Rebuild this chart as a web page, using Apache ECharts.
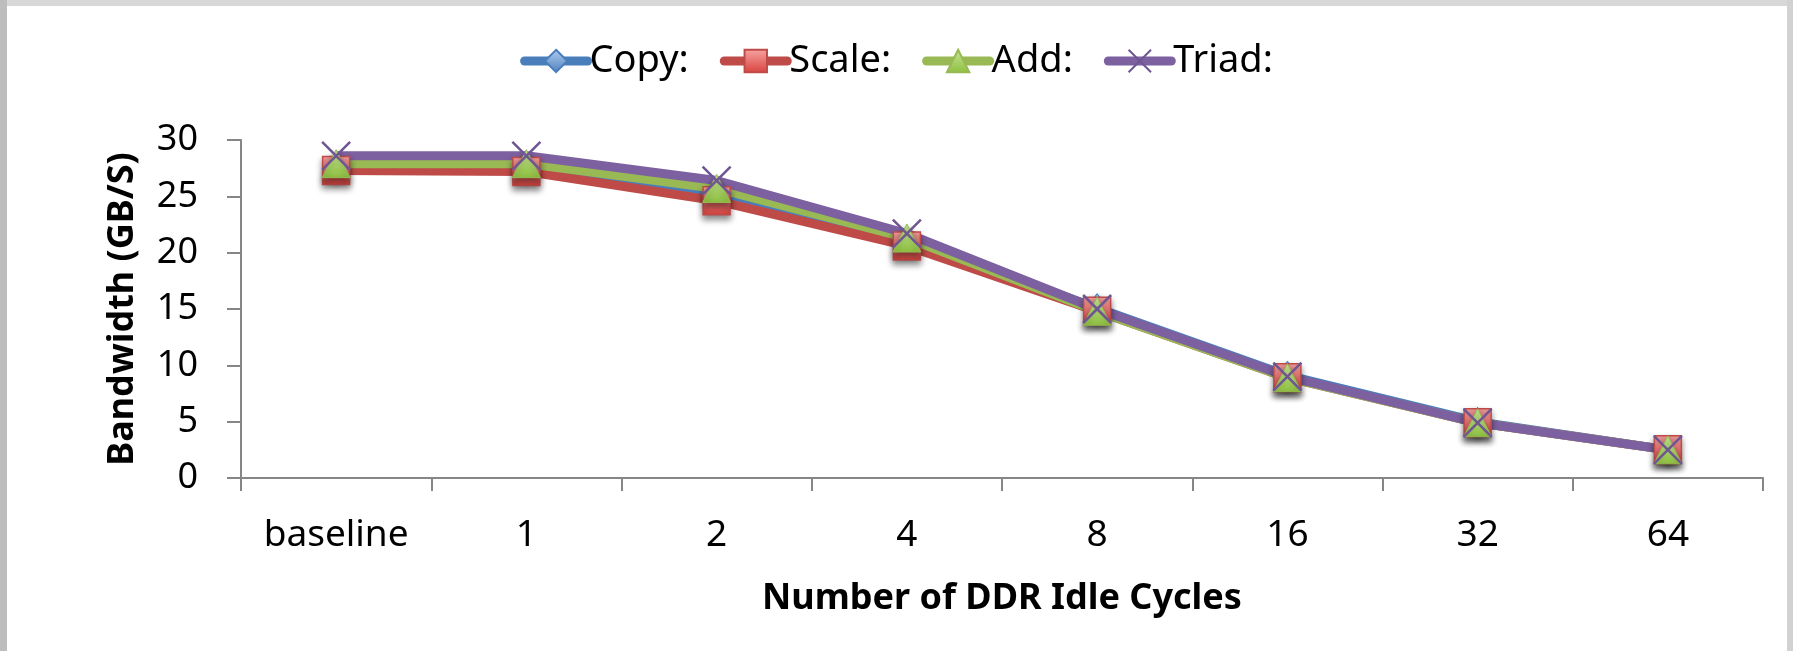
<!DOCTYPE html>
<html>
<head>
<meta charset="utf-8">
<style>
html,body{margin:0;padding:0;background:#fff;}
#chart{width:1793px;height:651px;}
</style>
<script src="https://cdn.jsdelivr.net/npm/echarts@6/dist/echarts.min.js"></script>
</head>
<body>
<div id="chart"></div>
<script>
var categories = ['baseline', '1', '2', '4', '8', '16', '32', '64'];
var copyValues = [27.6, 27.6, 25.3, 21.1, 15.1, 9.1, 5.0, 2.5];
var scaleValues = [27.3, 27.2, 24.6, 20.6, 14.8, 8.9, 4.9, 2.5];
var addValues = [27.9, 27.9, 25.7, 21.3, 14.8, 8.9, 4.9, 2.5];
var triadValues = [28.6, 28.6, 26.4, 21.7, 15.0, 9.0, 4.9, 2.5];
var seriesNames = ['Copy:', 'Scale:', 'Add:', 'Triad:'];
var yTicks = [0, 5, 10, 15, 20, 25, 30];

var FONT = '"Noto Sans", "Open Sans", sans-serif';
var chart = echarts.init(document.getElementById('chart'), null, {renderer: 'canvas'});

function grad(top, bottom) {
  return new echarts.graphic.LinearGradient(0, 0, 0, 1, [
    {offset: 0, color: top}, {offset: 1, color: bottom}
  ]);
}
var shadow = {shadowBlur: 6, shadowColor: 'rgba(0,0,0,0.45)', shadowOffsetY: 4};

function lineSeries(name, data, lineColor, symbol, size, itemStyle) {
  return {
    name: name,
    type: 'line',
    data: data,
    symbol: symbol,
    symbolSize: size,
    showAllSymbol: true,
    lineStyle: {color: lineColor, width: 9},
    itemStyle: Object.assign({}, shadow, itemStyle),
    emphasis: {disabled: true},
    animation: false
  };
}

var option = {
  backgroundColor: '#ffffff',
  textStyle: {fontFamily: FONT},
  graphic: [
    {type: 'rect', shape: {x: 0, y: 0, width: 1793, height: 6}, style: {fill: '#d8d8d8'}, silent: true},
    {type: 'rect', shape: {x: 0, y: 0, width: 7, height: 651}, style: {fill: '#bdbdbd'}, silent: true},
    {type: 'rect', shape: {x: 1787, y: 0, width: 6, height: 651}, style: {fill: '#d2d2d2'}, silent: true}
  ],
  legend: {
    top: 37,
    left: 'center',
    itemWidth: 63,
    itemHeight: 28,
    itemGap: 31,
    data: seriesNames,
    lineStyle: {width: 9, cap: 'round'},
    textStyle: {fontFamily: FONT, fontSize: 38, color: '#000', padding: [0, 0, 0, -3]}
  },
  grid: {left: 241, right: 30, top: 140, bottom: 173, containLabel: false},
  xAxis: {
    type: 'category',
    data: categories,
    boundaryGap: true,
    name: 'Number of DDR Idle Cycles',
    nameLocation: 'middle',
    nameGap: 103,
    nameTextStyle: {fontFamily: FONT, fontSize: 36, fontWeight: 'bold', color: '#000'},
    axisLine: {lineStyle: {color: '#868686', width: 2}},
    axisTick: {show: true, alignWithLabel: false, length: 13, lineStyle: {color: '#868686', width: 2}},
    axisLabel: {fontFamily: FONT, fontSize: 37, color: '#000', margin: 39, interval: 0},
    splitLine: {show: false}
  },
  yAxis: {
    type: 'value',
    min: 0,
    max: 30,
    interval: 5,
    name: 'Bandwidth (GB/S)',
    nameLocation: 'middle',
    nameGap: 100,
    nameRotate: 90,
    nameTextStyle: {fontFamily: FONT, fontSize: 36, fontWeight: 'bold', color: '#000'},
    axisLine: {show: true, lineStyle: {color: '#868686', width: 2}},
    axisTick: {show: true, length: 14, lineStyle: {color: '#868686', width: 2}},
    axisLabel: {fontFamily: FONT, fontSize: 36, color: '#000', margin: 43,
      formatter: function (v) { return yTicks.indexOf(v) >= 0 ? String(v) : ''; }},
    splitLine: {show: false}
  },
  series: [
    lineSeries(seriesNames[0], copyValues, '#4a7ebb', 'diamond', [22, 28],
      {color: grad('#b0cdf2', '#4f81bd'), borderColor: '#4a7ebb', borderWidth: 1}),
    lineSeries(seriesNames[1], scaleValues, '#be4b48', 'rect', [27, 28],
      {color: grad('#f7a5a3', '#d8423e'), borderColor: '#be4b48', borderWidth: 1.5}),
    lineSeries(seriesNames[2], addValues, '#98b954', 'triangle', [28, 28],
      {color: grad('#c8e597', '#8dbf3f'), borderColor: '#98b954', borderWidth: 1}),
    lineSeries(seriesNames[3], triadValues, '#7d60a0', 'path://M0,0L10,10M10,0L0,10', [28, 28],
      {color: 'rgba(0,0,0,0)', borderColor: '#6f5592', borderWidth: 2.5, shadowBlur: 0, shadowOffsetY: 0})
  ]
};
chart.setOption(option);
</script>
</body>
</html>
